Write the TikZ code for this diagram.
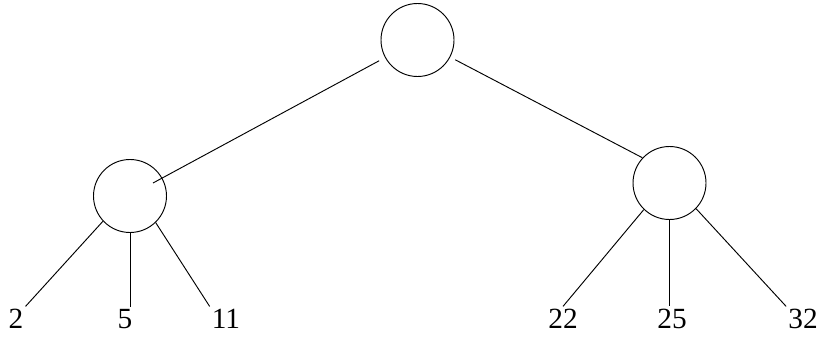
\documentclass[tikz,border=0pt]{standalone}
\usepackage{fontspec}
\setmainfont{Liberation Serif}
\begin{document}
\begin{tikzpicture}[x=0.03cm,y=-0.03cm,line width=0.8pt]
\tikzset{vertex/.style={draw,circle,minimum size=2.19cm,inner sep=0pt},
  leaf/.style={anchor=base,inner sep=1.5pt,font=\fontsize{25}{30}\selectfont}}
\useasboundingbox (0,0) rectangle (822,339);
\node[vertex] (root) at (417.5,40) {};
\node[vertex] (left) at (130,196) {};
\node[vertex] (right) at (669.5,183) {};
\coordinate (lin) at (153,183);
\node[leaf] (l2) at (16,328) {2};
\node[leaf] (l5) at (125,328) {5};
\node[leaf] (l11) at (226,328) {11};
\node[leaf] (l22) at (563,328) {22};
\node[leaf] (l25) at (672,328) {25};
\node[leaf] (l32) at (803,328) {32};
\draw[shorten <=0.2cm] (root) -- (lin);
\draw[shorten <=0.17cm] (root) -- (right.137);
\draw (left.-137) -- (l2.north east);
\draw (left.south) -- (l5.north -| left.south);
\draw (left.-46) -- (l11.north west);
\draw (right.-134) -- (l22.north);
\draw (right.south) -- (l25.north -| right.south);
\draw (right.-44) -- (l32.north west);
\end{tikzpicture}
\end{document}
